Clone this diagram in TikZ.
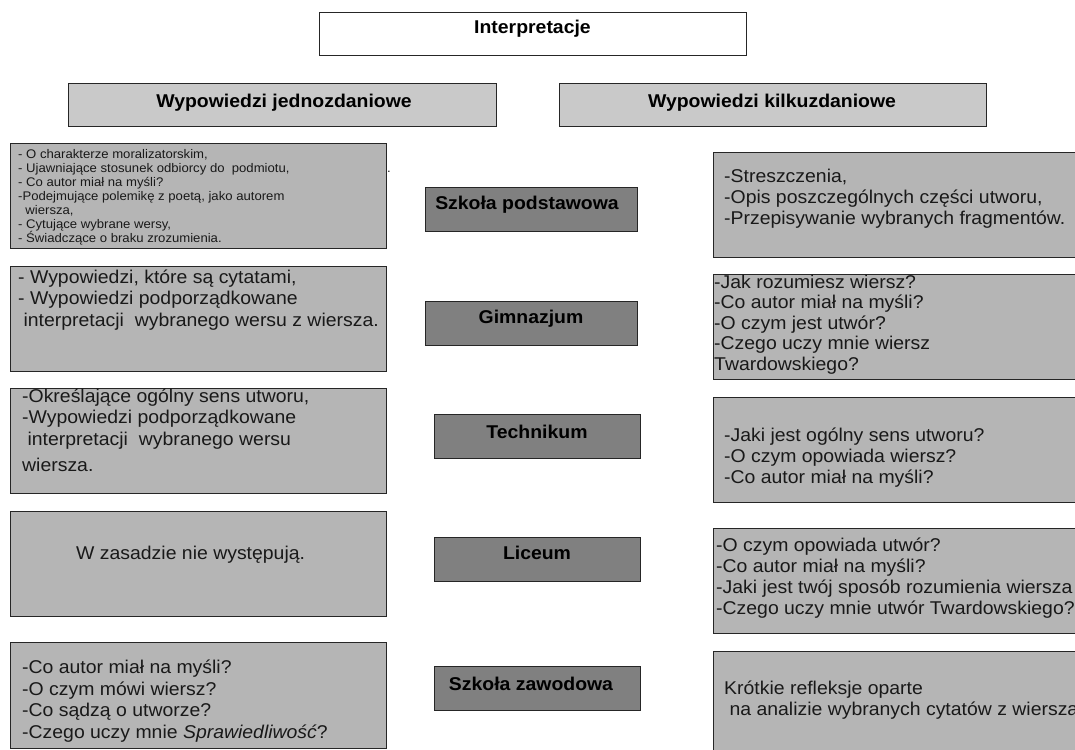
\documentclass[tikz,border=0pt]{standalone}
\usepackage{fontspec}
\setmainfont[FakeStretch=1.05]{Liberation Sans}
\definecolor{headfill}{gray}{0.79}
\definecolor{boxfill}{gray}{0.71}
\definecolor{schoolfill}{gray}{0.5}

\begin{document}
\begin{tikzpicture}[x=1pt,y=-1pt,
  box/.style={draw=black!85,line width=1pt,inner sep=0pt,anchor=north west},
  headbox/.style={box,fill=headfill},
  itembox/.style={box,fill=boxfill},
  schoolbox/.style={box,fill=schoolfill},
  title/.style={font=\fontsize{18.5}{22}\selectfont\bfseries,inner sep=0pt,anchor=base},
  items/.style={font=\fontsize{18.5}{21.5}\selectfont,align=left,inner sep=0pt,anchor=base west,text=black!90},
  ritems/.style={items,font=\fontsize{18.5}{21}\selectfont},
  smallitems/.style={items,font=\fontsize{12.5}{14}\selectfont}]
\useasboundingbox[fill=white] (0,0) rectangle (1075,749);

% Headers
\node[box,fill=white,minimum width=427,minimum height=43] (top) at (319,12) {};
\node[title] (topt) at (532.5,34) {Interpretacje};
\node[headbox,minimum width=428,minimum height=43] (hleft) at (68,83) {};
\node[title] (hleftt) at (284,107) {Wypowiedzi jednozdaniowe};
\node[headbox,minimum width=427,minimum height=43] (hright) at (559,83) {};
\node[title] (hrightt) at (772,107) {Wypowiedzi kilkuzdaniowe};

% Left column (text placed at the baseline of its last line)
\node[itembox,minimum width=376,minimum height=105] (l1) at (10,143) {};
\node[smallitems] (l1t) at (18,242) {- O charakterze moralizatorskim,\\- Ujawniające stosunek odbiorcy do\ \ podmiotu,\\- Co autor miał na myśli?\\-Podejmujące polemikę z poetą, jako autorem\\\ \ wiersza,\\- Cytujące wybrane wersy,\\- Świadczące o braku zrozumienia.};
\node[smallitems,anchor=base] (dot) at (389,172) {.};
\node[itembox,minimum width=376,minimum height=105] (l2) at (10,266) {};
\node[items] (l2t) at (18,326) {- Wypowiedzi, które są cytatami,\\- Wypowiedzi podporządkowane\\\ interpretacji\ \ wybranego wersu z wiersza.};
\node[itembox,minimum width=376,minimum height=105] (l3) at (10,388) {};
\node[items] (l3t) at (22,471.5) {-Określające ogólny sens utworu,\\-Wypowiedzi podporządkowane\\\ interpretacji\ \ wybranego wersu\\[5pt]wiersza.};
\node[itembox,minimum width=376,minimum height=105] (l4) at (10,511) {};
\node[items] (l4t) at (76,559) {W zasadzie nie występują.};
\node[itembox,minimum width=376,minimum height=106] (l5) at (10,642) {};
\node[items] (l5t) at (22,738) {-Co autor miał na myśli?\\-O czym mówi wiersz?\\-Co sądzą o utworze?\\-Czego uczy mnie \textit{Sprawiedliwość}?};

% Schools
\node[schoolbox,minimum width=212,minimum height=44] (s1) at (425,187) {};
\node[title] (s1t) at (527,209) {Szkoła podstawowa};
\node[schoolbox,minimum width=212,minimum height=44] (s2) at (425,301) {};
\node[title] (s2t) at (531,323) {Gimnazjum};
\node[schoolbox,minimum width=206,minimum height=44] (s3) at (434,414) {};
\node[title] (s3t) at (537,438) {Technikum};
\node[schoolbox,minimum width=206,minimum height=44] (s4) at (434,537) {};
\node[title] (s4t) at (537,559) {Liceum};
\node[schoolbox,minimum width=206,minimum height=44] (s5) at (434,666) {};
\node[title] (s5t) at (531,690) {Szkoła zawodowa};

% Right column
\node[itembox,minimum width=370,minimum height=105] (r1) at (713,152) {};
\node[ritems] (r1t) at (724,224) {-Streszczenia,\\-Opis poszczególnych części utworu,\\-Przepisywanie wybranych fragmentów.};
\node[itembox,minimum width=370,minimum height=105] (r2) at (713,274) {};
\begin{scope}
\clip (r2.north west) rectangle (r2.south east);
\node[ritems,font=\fontsize{18.5}{20.5}\selectfont] (r2t) at (714,370) {-Jak rozumiesz wiersz?\\-Co autor miał na myśli?\\-O czym jest utwór?\\-Czego uczy mnie wiersz\\Twardowskiego?};
\end{scope}
\node[itembox,minimum width=370,minimum height=105] (r3) at (713,397) {};
\node[ritems] (r3t) at (724,483) {-Jaki jest ogólny sens utworu?\\-O czym opowiada wiersz?\\-Co autor miał na myśli?};
\node[itembox,minimum width=370,minimum height=105] (r4) at (713,528) {};
\node[ritems] (r4t) at (716,614) {-O czym opowiada utwór?\\-Co autor miał na myśli?\\-Jaki jest twój sposób rozumienia wiersza\\-Czego uczy mnie utwór Twardowskiego?};
\node[itembox,minimum width=370,minimum height=110] (r5) at (713,651) {};
\node[ritems] (r5t) at (724,715) {Krótkie refleksje oparte\\\ na analizie wybranych cytatów z wiersza};
\end{tikzpicture}
\end{document}
